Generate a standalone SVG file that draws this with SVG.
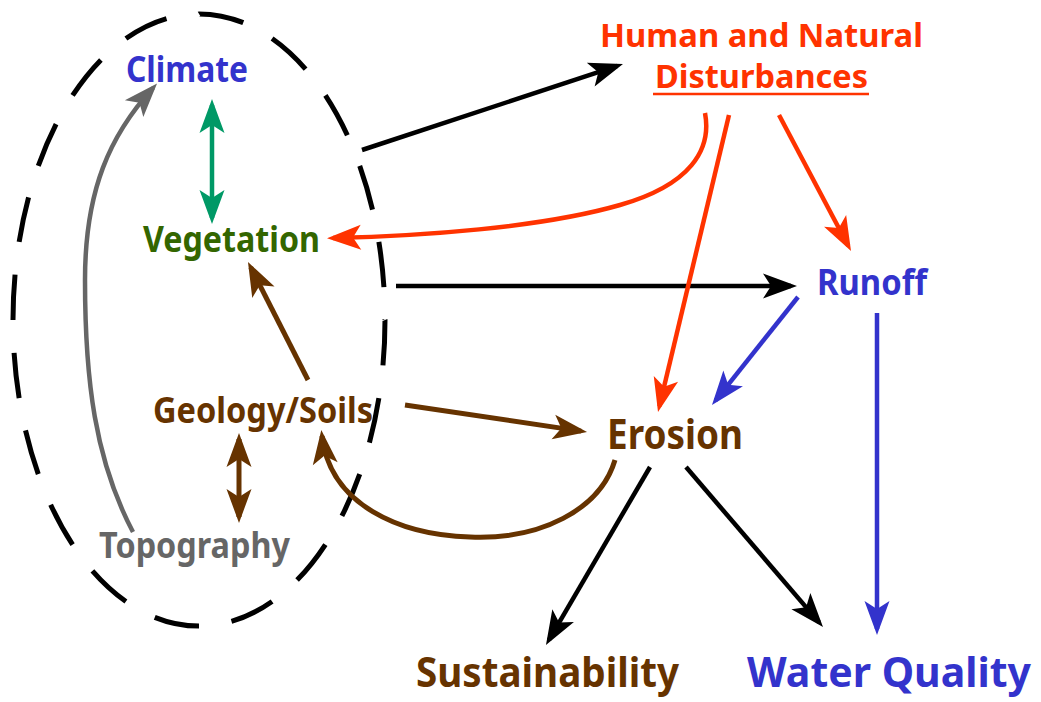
<svg xmlns="http://www.w3.org/2000/svg" width="1041" height="702" viewBox="0 0 1041 702">
<style>
text{font-family:"Noto Sans","DejaVu Sans",sans-serif;font-weight:bold;}
.s{font-size:35px;}
.h{font-size:33px;}
.b{font-size:41px;}
.c{fill:none;stroke-linecap:butt;}
.k{stroke:#000;stroke-width:4.5;marker-end:url(#mk);}
.r{stroke:#ff3300;stroke-width:4.5;marker-end:url(#mr);}
.u{stroke:#3333cc;stroke-width:4.5;marker-end:url(#mu);}
.w{stroke:#663300;stroke-width:5;marker-end:url(#mw);}
.g{stroke:#666666;stroke-width:4.5;marker-end:url(#mg);}
.t{stroke:#009966;stroke-width:4.5;marker-end:url(#mt);marker-start:url(#mt);}
.wd{stroke:#663300;stroke-width:5;marker-end:url(#mw);marker-start:url(#mw);}
</style>
<defs>
<marker id="mk" markerUnits="userSpaceOnUse" viewBox="-36 -16 42 32" markerWidth="42" markerHeight="32" refX="-6" refY="0" orient="auto-start-reverse" overflow="visible"><path d="M0,0 L-34,-12.5 L-26,0 L-34,12.5 Z" fill="#000"/></marker>
<marker id="mr" markerUnits="userSpaceOnUse" viewBox="-36 -16 42 32" markerWidth="42" markerHeight="32" refX="-6" refY="0" orient="auto-start-reverse" overflow="visible"><path d="M0,0 L-34,-12.5 L-26,0 L-34,12.5 Z" fill="#ff3300"/></marker>
<marker id="mu" markerUnits="userSpaceOnUse" viewBox="-36 -16 42 32" markerWidth="42" markerHeight="32" refX="-6" refY="0" orient="auto-start-reverse" overflow="visible"><path d="M0,0 L-34,-12.5 L-26,0 L-34,12.5 Z" fill="#3333cc"/></marker>
<marker id="mw" markerUnits="userSpaceOnUse" viewBox="-36 -16 42 32" markerWidth="42" markerHeight="32" refX="-6" refY="0" orient="auto-start-reverse" overflow="visible"><path d="M0,0 L-34,-12.5 L-26,0 L-34,12.5 Z" fill="#663300"/></marker>
<marker id="mg" markerUnits="userSpaceOnUse" viewBox="-36 -16 42 32" markerWidth="42" markerHeight="32" refX="-6" refY="0" orient="auto-start-reverse" overflow="visible"><path d="M0,0 L-34,-12.5 L-26,0 L-34,12.5 Z" fill="#666666"/></marker>
<marker id="mt" markerUnits="userSpaceOnUse" viewBox="-36 -16 42 32" markerWidth="42" markerHeight="32" refX="-6" refY="0" orient="auto-start-reverse" overflow="visible"><path d="M0,0 L-34,-12.5 L-26,0 L-34,12.5 Z" fill="#009966"/></marker>
</defs>
<rect width="1041" height="702" fill="#fff"/>
<g id="boundary">
<path d="M385,320 A186,306 0 1,1 13,320 A186,306 0 1,1 385,320" fill="none" stroke="#000" stroke-width="5" pathLength="2000" stroke-dasharray="58 42"/>
</g>
<g id="connectors" class="c">
<path class="c k" d="M362,150 L617.3,65.9"/>
<path class="c k" d="M396,286 L791,286"/>
<path class="c r" d="M705,113 C712,150 690,185 620,205 C540,228 420,236 333,238"/>
<path class="c r" d="M729,115 L659.4,406.2"/>
<path class="c r" d="M779,115 L848.2,245.7"/>
<path class="c t" d="M212,105 L212,218"/>
<path class="c g" d="M133,532 C95,460 85,380 85,280 C85,190 110,135 153,88"/>
<path class="c w" d="M308,380 L250.7,267.3"/>
<path class="c wd" d="M239,439 L239,517"/>
<path class="c w" d="M405,405 L581.1,431.1"/>
<path class="c w" d="M615,460 C600,510 540,540 470,537 C400,535 330,505 322,436"/>
<path class="c u" d="M798,297 L715.7,400.3"/>
<path class="c u" d="M877,313 L877,629"/>
<path class="c k" d="M650,467 L549,639.8"/>
<path class="c k" d="M686,467 L819.1,622.4"/>
</g>
<g id="climate"><text class="s" x="126" y="82" textLength="122" lengthAdjust="spacingAndGlyphs" fill="#3333cc">Climate</text></g>
<g id="vegetation"><text class="s" x="143" y="252" textLength="177" lengthAdjust="spacingAndGlyphs" fill="#336600">Vegetation</text></g>
<g id="geology"><text class="s" x="153" y="423" textLength="220" lengthAdjust="spacingAndGlyphs" fill="#663300">Geology/Soils</text></g>
<g id="topography"><text class="s" x="99" y="558" textLength="191" lengthAdjust="spacingAndGlyphs" fill="#666666">Topography</text></g>
<g id="disturbances">
<text class="h" x="600" y="47" textLength="323" lengthAdjust="spacingAndGlyphs" fill="#ff3300">Human and Natural</text>
<text class="h" x="655" y="88" textLength="213" lengthAdjust="spacingAndGlyphs" fill="#ff3300">Disturbances</text>
<line x1="653" y1="94" x2="869" y2="94" stroke="#ff3300" stroke-width="2.5"/>
</g>
<g id="runoff"><text class="s" x="817" y="295" textLength="110" lengthAdjust="spacingAndGlyphs" fill="#3333cc">Runoff</text></g>
<g id="erosion"><text class="b" x="607" y="449" textLength="136" lengthAdjust="spacingAndGlyphs" fill="#663300">Erosion</text></g>
<g id="sustainability"><text class="b" x="416" y="687" textLength="263" lengthAdjust="spacingAndGlyphs" fill="#663300">Sustainability</text></g>
<g id="water-quality"><text class="b" x="747" y="687" textLength="284" lengthAdjust="spacingAndGlyphs" fill="#3333cc">Water Quality</text></g>
</svg>
